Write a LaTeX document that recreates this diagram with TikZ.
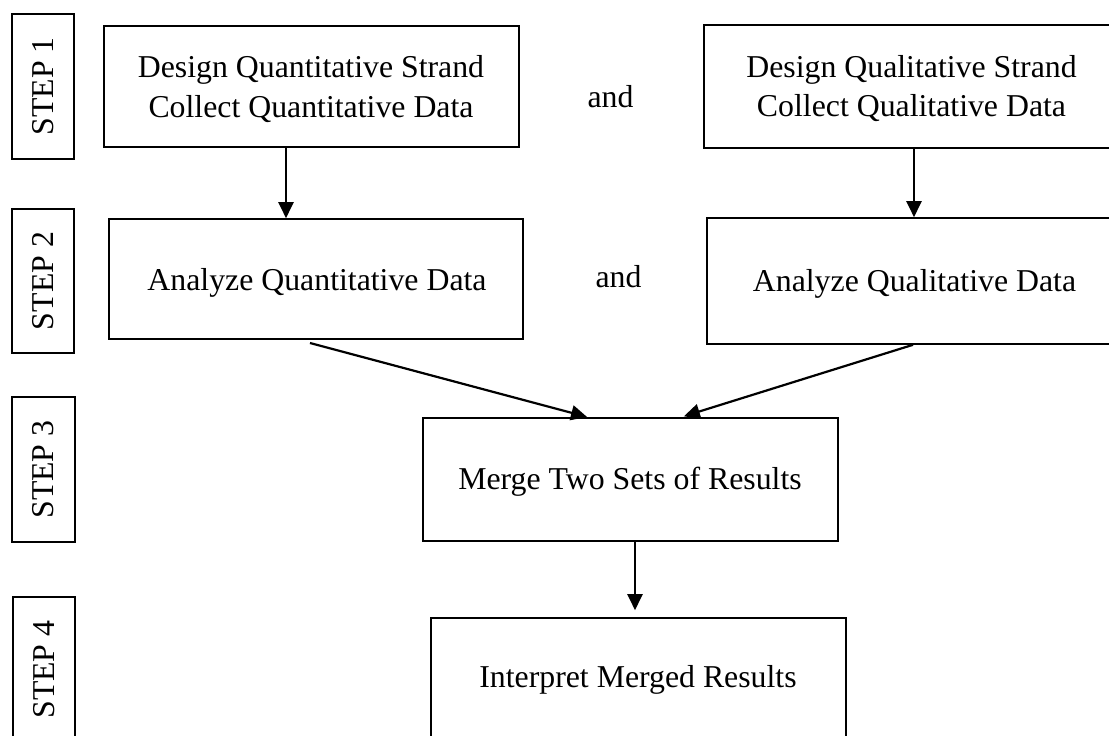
\documentclass[tikz,border=0pt]{standalone}
\usepackage{fontspec}
\setmainfont{Liberation Serif}
\usetikzlibrary{arrows.meta,calc}
\begin{document}
\begin{tikzpicture}[x=1pt,y=-1pt,
  box/.style={draw=black,line width=1.6pt,rectangle,inner sep=0pt},
  stepbox/.style={draw=black,line width=1.6pt,rectangle,inner sep=0pt,rotate=90,font=\fontsize{31.8}{38}\selectfont},
  txt/.style={inner sep=0pt,anchor=base,font=\fontsize{31.8}{38}\selectfont},
  arr/.style={line width=2.2pt,-{Triangle[length=16pt,width=15pt]}}]
\useasboundingbox (0,0) rectangle (1109,736);
\clip (0,0) rectangle (1109,736);
\fill[white] (0,0) rectangle (1109,736);

% step labels
\node[stepbox,minimum width=145pt,minimum height=62pt] (s1) at (43,86.5) {STEP 1};
\node[stepbox,minimum width=144pt,minimum height=62pt] (s2) at (43,281) {STEP 2};
\node[stepbox,minimum width=145pt,minimum height=63pt] (s3) at (43.5,469.5) {STEP 3};
\node[stepbox,minimum width=145pt,minimum height=62pt] (s4) at (44,669.5) {STEP 4};

% boxes
\node[box,minimum width=415pt,minimum height=121pt] (b1) at (311.5,86.5) {};
\node[box,minimum width=415pt,minimum height=123pt] (c1) at (911.5,86.5) {};
\node[box,minimum width=414pt,minimum height=120pt] (b2) at (316,279) {};
\node[box,minimum width=415pt,minimum height=126pt] (c2) at (914.5,281) {};
\node[box,minimum width=415pt,minimum height=123pt] (m) at (630.5,479.5) {};
\node[box,minimum width=415pt,minimum height=124pt] (i) at (638.5,680) {};

% texts
\node[txt] (t1a) at (311,77) {Design Quantitative Strand};
\node[txt] (t1b) at (311,117) {Collect Quantitative Data};
\node[txt] (u1a) at (911.5,77) {Design Qualitative Strand};
\node[txt] (u1b) at (911.5,116) {Collect Qualitative Data};
\node[txt] (and1) at (610.5,107) {and};
\node[txt] (t2) at (317,290) {Analyze Quantitative Data};
\node[txt] (and2) at (618.5,287) {and};
\node[txt] (u2) at (914.5,291) {Analyze Qualitative Data};
\node[txt] (tm) at (630,489) {Merge Two Sets of Results};
\node[txt] (ti) at (638,687) {Interpret Merged Results};

% connectors
\coordinate (xa) at (286,0);
\coordinate (xb) at (914,0);
\coordinate (xc) at (635,0);
\coordinate (xl) at (588,0);
\coordinate (xr) at (681,0);
\coordinate (dl) at (310,343);
\coordinate (dr) at (913,0);
\draw[arr] (b1.south -| xa) -- (b2.north -| xa);
\draw[arr] (c1.south -| xb) -- (c2.north -| xb);
\draw[arr,shorten >=1pt] (dl) -- (m.north -| xl);
\draw[arr,shorten >=3pt] (c2.south -| dr) -- (m.north -| xr);
\draw[arr,shorten >=7pt] (m.south -| xc) -- (i.north -| xc);
\end{tikzpicture}
\end{document}
